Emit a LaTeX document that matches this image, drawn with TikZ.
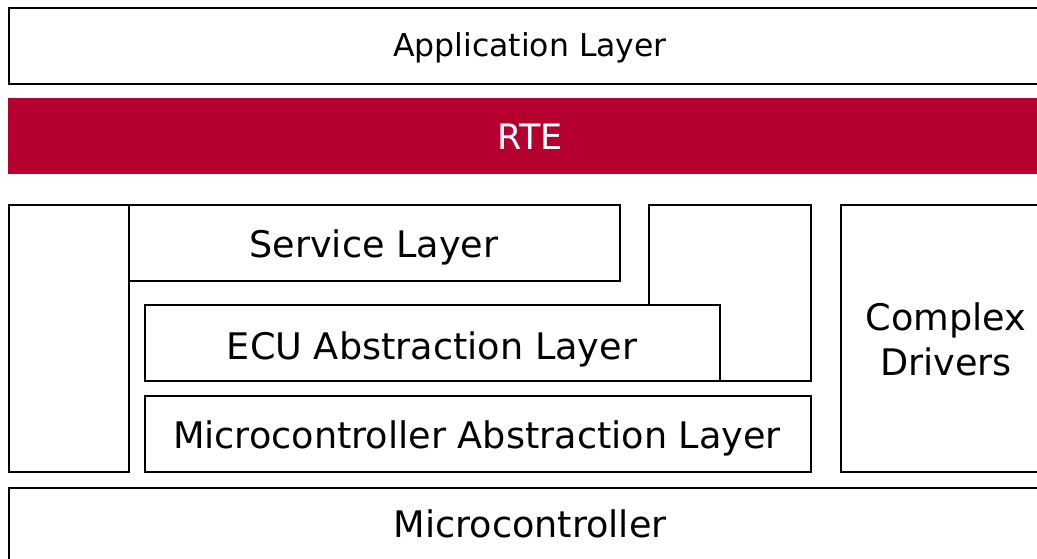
\documentclass[tikz,border=0pt]{standalone}
\usepackage{fontspec}
\setmainfont{DejaVu Sans}
\definecolor{rtered}{RGB}{181,0,47}
\tikzset{
  outerbox/.style={draw=black, line width=2.2pt, fill=white, inner sep=0pt, anchor=north west},
  innerbox/.style={draw=black, line width=1.7pt, fill=white, inner sep=0pt, anchor=north west},
  lbl/.style={anchor=base, inner sep=0pt, font=\fontsize{36.6}{45}\selectfont},
  smalllbl/.style={anchor=base, inner sep=0pt, font=\fontsize{31.5}{38}\selectfont},
}
\begin{document}
\begin{tikzpicture}[x=1pt,y=-1pt]
\useasboundingbox (0,0) rectangle (1037,559);
\clip (0,0) rectangle (1037,559);
% Application layer
\node[outerbox, minimum width=1044pt, minimum height=76pt] (app) at (8,7) {};
\node[smalllbl] (applbl) at (530,57) {Application Layer};
% RTE
\node[draw=none, fill=rtered, inner sep=0pt, anchor=north west, minimum width=1044pt, minimum height=76pt] (rte) at (8,98) {};
\node[lbl, text=white, font=\fontsize{35}{42}\selectfont] (rtelbl) at (530,150) {RTE};
% left tall box
\node[outerbox, minimum width=120pt, minimum height=267pt] (sysl) at (8,204) {};
% service layer
\node[innerbox, minimum width=491pt, minimum height=76pt] (serv) at (128,204) {};
\node[lbl] (servlbl) at (374,257) {Service Layer};
% right tall box
\node[innerbox, minimum width=162pt, minimum height=176pt] (sysr) at (648,204) {};
% ECU abstraction layer
\node[innerbox, minimum width=575pt, minimum height=76pt] (ecu) at (144,304) {};
\node[lbl] (eculbl) at (432,359) {ECU Abstraction Layer};
% MCAL
\node[innerbox, minimum width=666pt, minimum height=76pt] (mcal) at (144,395) {};
\node[lbl] (mcallbl) at (477,448) {Microcontroller Abstraction Layer};
% Complex drivers
\node[innerbox, minimum width=212pt, minimum height=267pt] (cdd) at (840,204) {};
\node[lbl, align=center, anchor=north] (cddlbl) at (946,302) {Complex\\Drivers};
% Microcontroller
\node[outerbox, minimum width=1044pt, minimum height=90pt] (mc) at (8,487) {};
\node[lbl] (mclbl) at (530,537) {Microcontroller};
\end{tikzpicture}
\end{document}
